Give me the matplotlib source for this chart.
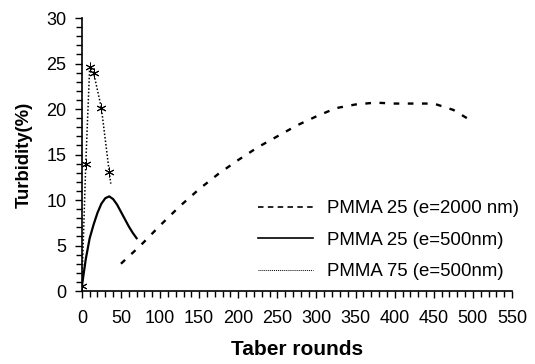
import matplotlib
matplotlib.use("Agg")
import matplotlib.pyplot as plt
from matplotlib.ticker import MultipleLocator

plt.rcParams['font.family'] = ['Liberation Sans', 'DejaVu Sans']

# PMMA 25 (e=2000 nm)
x_2000 = [50, 75, 100, 125, 150, 175, 200, 225, 250, 275, 300, 325, 350, 375, 400, 425, 450, 475, 500]
y_2000 = [3.0, 5.0, 7.2, 9.3, 11.2, 12.9, 14.4, 15.8, 17.0, 18.2, 19.2, 20.1, 20.5, 20.7, 20.6, 20.6, 20.6, 19.9, 18.6]

# PMMA 25 (e=500nm)
x_500 = [0, 5, 10, 15, 20, 25, 30, 35, 40, 45, 50, 55, 60, 65, 70]
y_500 = [0.5, 3.5, 5.8, 7.3, 8.6, 9.6, 10.2, 10.4, 10.1, 9.5, 8.7, 7.9, 7.1, 6.4, 5.8]

# PMMA 75 (e=500nm)
x_75 = [0, 5, 10, 15, 25, 35, 37]
y_75 = [0.5, 14.0, 24.6, 24.0, 20.1, 13.1, 11.8]

fig = plt.figure(figsize=(5.35, 3.64), dpi=100)
ax = fig.add_axes([0.153, 0.2005, 0.804, 0.75])

ax.plot(x_2000, y_2000, color='black', linestyle=(0, (2.4, 3.6)), linewidth=1.7,
        label='PMMA 25 (e=2000 nm)')
ax.plot(x_500, y_500, color='black', linestyle='-', linewidth=1.6,
        label='PMMA 25 (e=500nm)')
ax.plot(x_75, y_75, color='black', linestyle=(0, (1, 1.3)), linewidth=1.1,
        marker=(6, 2, 0), markersize=7, markeredgewidth=0.7, markevery=list(range(6)),
        label='PMMA 75 (e=500nm)')

ax.set_xlim(0, 550)
ax.set_ylim(0, 30)
ax.xaxis.set_major_locator(MultipleLocator(50))
ax.xaxis.set_minor_locator(MultipleLocator(10))
ax.yaxis.set_major_locator(MultipleLocator(5))
ax.yaxis.set_minor_locator(MultipleLocator(1))
ax.tick_params(which='major', length=5, width=1, labelsize=13, pad=6)
ax.tick_params(axis='x', which='major', pad=9)
ax.tick_params(which='minor', length=4, width=1)

for s in ['top', 'right']:
    ax.spines[s].set_visible(False)
for s in ['left', 'bottom']:
    ax.spines[s].set_linewidth(1.2)

ax.set_xlabel('Taber rounds', fontsize=15, fontweight='bold', labelpad=9)
ax.set_ylabel('Turbidity(%)', fontsize=13.3, fontweight='bold', labelpad=10)

leg = ax.legend(loc='upper left', bbox_to_anchor=(0.482, 0.45),
                bbox_transform=fig.transFigure, frameon=False,
                fontsize=13.4, handlelength=2.96, labelspacing=0.78,
                handletextpad=0.75, borderpad=0, borderaxespad=0)
for ln in leg.get_lines():
    ln.set_marker('None')
leg.get_lines()[0].set_linewidth(1.2)
leg.get_lines()[0].set_linestyle((0, (3.3, 2.6)))
leg.get_lines()[1].set_linewidth(1.2)
leg.get_lines()[2].set_linewidth(0.7)
leg.get_lines()[2].set_linestyle((0, (1, 1)))

fig.savefig('out.png', dpi=100)
